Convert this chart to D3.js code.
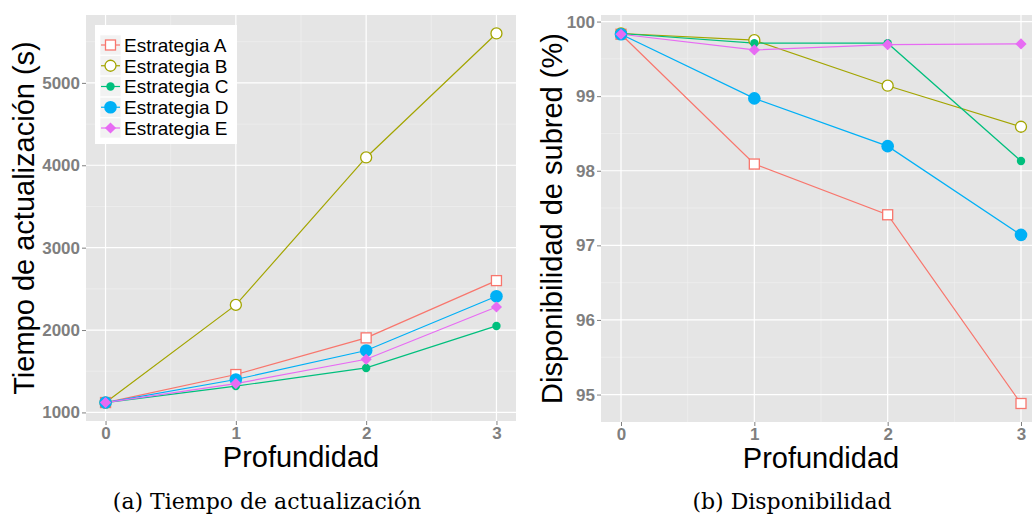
<!DOCTYPE html>
<html>
<head>
<meta charset="utf-8">
<script src="https://cdn.jsdelivr.net/npm/d3@7"></script>
<style>
  html, body { margin: 0; padding: 0; background: #ffffff; }
  svg { display: block; }
</style>
</head>
<body>
<svg id="chart" width="1032" height="514"></svg>
<script>
// Depth levels on the x axis
const profundidad = [0, 1, 2, 3];

// Strategy names
const estrategias = ["Estrategia A", "Estrategia B", "Estrategia C", "Estrategia D", "Estrategia E"];

// (a) Update time in seconds per strategy
const tiempoA = [1120, 1460, 1905, 2600];
const tiempoB = [1120, 2305, 4095, 5600];
const tiempoC = [1120, 1320, 1540, 2050];
const tiempoD = [1120, 1400, 1752, 2410];
const tiempoE = [1120, 1350, 1645, 2280];

// (b) Subnet availability (%) per strategy
const dispA = [99.83, 98.09, 97.41, 94.88];
const dispB = [99.84, 99.75, 99.14, 98.59];
const dispC = [99.84, 99.71, 99.71, 98.13];
const dispD = [99.83, 98.97, 98.33, 97.14];
const dispE = [99.83, 99.62, 99.69, 99.70];

// Tick labels
const ticksTiempo = [1000, 2000, 3000, 4000, 5000];
const ticksDisp = [95, 96, 97, 98, 99, 100];

const colores = ["#F8766D", "#A3A500", "#00BF7D", "#00B0F6", "#E76BF3"];
const formas = ["square", "circleOpen", "dot", "circle", "diamond"];

const svg = d3.select("#chart");
const SANS = "'Liberation Sans', Arial, Helvetica, sans-serif";

function drawMarker(g, shape, color, cx, cy) {
  if (shape === "square") {
    g.append("rect").attr("x", cx - 5).attr("y", cy - 5).attr("width", 10).attr("height", 10)
      .attr("fill", "#ffffff").attr("stroke", color).attr("stroke-width", 1.3);
  } else if (shape === "circleOpen") {
    g.append("circle").attr("cx", cx).attr("cy", cy).attr("r", 5.5)
      .attr("fill", "#ffffff").attr("stroke", color).attr("stroke-width", 1.3);
  } else if (shape === "dot") {
    g.append("circle").attr("cx", cx).attr("cy", cy).attr("r", 4.2).attr("fill", color);
  } else if (shape === "circle") {
    g.append("circle").attr("cx", cx).attr("cy", cy).attr("r", 6.3).attr("fill", color);
  } else if (shape === "diamond") {
    const s = 5.6;
    g.append("path")
      .attr("d", `M${cx},${cy - s}L${cx + s},${cy}L${cx},${cy + s}L${cx - s},${cy}Z`)
      .attr("fill", color);
  }
}

function expand(ext, f) {
  const pad = (ext[1] - ext[0]) * f;
  return [ext[0] - pad, ext[1] + pad];
}

function panel(opts) {
  const { left, right, top, bottom, series, yTicks, yMinor, yTitle, yTitleX, caption, captionX } = opts;
  const g = svg.append("g");

  const x = d3.scaleLinear().domain(expand(d3.extent(profundidad), 0.05)).range([left, right]);
  const all = series.flat();
  const y = d3.scaleLinear().domain(expand(d3.extent(all), 0.05)).range([bottom, top]);

  const clipId = "clip" + Math.round(left);
  svg.append("clipPath").attr("id", clipId)
    .append("rect").attr("x", left).attr("y", top).attr("width", right - left).attr("height", bottom - top);

  // panel background
  g.append("rect").attr("x", left).attr("y", top).attr("width", right - left).attr("height", bottom - top)
    .attr("fill", "#E5E5E5");

  const grid = g.append("g").attr("clip-path", `url(#${clipId})`);
  // minor grid
  [0.5, 1.5, 2.5].forEach(v => {
    grid.append("line").attr("x1", x(v)).attr("x2", x(v)).attr("y1", top).attr("y2", bottom)
      .attr("stroke", "#F2F2F2").attr("stroke-width", 0.6);
  });
  yMinor.forEach(v => {
    grid.append("line").attr("x1", left).attr("x2", right).attr("y1", y(v)).attr("y2", y(v))
      .attr("stroke", "#F2F2F2").attr("stroke-width", 0.6);
  });
  // major grid
  profundidad.forEach(v => {
    grid.append("line").attr("x1", x(v)).attr("x2", x(v)).attr("y1", top).attr("y2", bottom)
      .attr("stroke", "#ffffff").attr("stroke-width", 1.2);
  });
  yTicks.forEach(v => {
    grid.append("line").attr("x1", left).attr("x2", right).attr("y1", y(v)).attr("y2", y(v))
      .attr("stroke", "#ffffff").attr("stroke-width", 1.2);
  });

  // axes
  const xAxis = d3.axisBottom(x).tickValues(profundidad).tickFormat(d3.format("d")).tickSize(4).tickPadding(2);
  const yAxis = d3.axisLeft(y).tickValues(yTicks).tickFormat(d3.format("d")).tickSize(4).tickPadding(2);
  const gx = g.append("g").attr("transform", `translate(0,${bottom})`).call(xAxis);
  const gy = g.append("g").attr("transform", `translate(${left},0)`).call(yAxis);
  [gx, gy].forEach(a => {
    a.select(".domain").remove();
    a.selectAll(".tick line").attr("stroke", "#7F7F7F").attr("stroke-width", 1);
    a.selectAll(".tick text").attr("fill", "#7F7F7F").attr("font-family", SANS)
      .attr("font-weight", "bold").attr("font-size", 17);
  });

  // lines, then points
  const line = d3.line().x((d, i) => x(profundidad[i])).y(d => y(d));
  const lines = g.append("g");
  series.forEach((s, k) => {
    lines.append("path").attr("d", line(s)).attr("fill", "none")
      .attr("stroke", colores[k]).attr("stroke-width", 1.2);
  });
  const pts = g.append("g");
  series.forEach((s, k) => {
    s.forEach((v, i) => drawMarker(pts, formas[k], colores[k], x(profundidad[i]), y(v)));
  });

  // axis titles
  g.append("text").attr("x", (left + right) / 2).attr("y", bottom + 46)
    .attr("text-anchor", "middle").attr("font-family", SANS).attr("font-size", 29)
    .attr("fill", "#000").text("Profundidad");
  g.append("text").attr("transform", `translate(${yTitleX},${(top + bottom) / 2}) rotate(-90)`)
    .attr("text-anchor", "middle").attr("font-family", SANS).attr("font-size", 29)
    .attr("fill", "#000").text(yTitle);

  // caption
  g.append("text").attr("x", captionX).attr("y", 509)
    .attr("text-anchor", "middle").attr("font-family", "'DejaVu Serif', serif").attr("font-size", 22)
    .attr("fill", "#000").text(caption);

  return { x, y, g };
}

panel({
  left: 86, right: 516, top: 15, bottom: 421,
  series: [tiempoA, tiempoB, tiempoC, tiempoD, tiempoE],
  yTicks: ticksTiempo, yMinor: [1500, 2500, 3500, 4500, 5500],
  yTitle: "Tiempo de actualización (s)", yTitleX: 34,
  caption: "(a) Tiempo de actualización", captionX: 267
});

panel({
  left: 601, right: 1041, top: 15, bottom: 422,
  series: [dispA, dispB, dispC, dispD, dispE],
  yTicks: ticksDisp, yMinor: [95.5, 96.5, 97.5, 98.5, 99.5],
  yTitle: "Disponibilidad de subred (%)", yTitleX: 562,
  caption: "(b) Disponibilidad", captionX: 792
});

// legend inside panel (a)
const leg = svg.append("g");
leg.append("rect").attr("x", 95).attr("y", 25).attr("width", 142).attr("height", 119).attr("fill", "#ffffff");
estrategias.forEach((name, k) => {
  const cy = 45 + k * 20.75;
  leg.append("rect").attr("x", 100).attr("y", cy - 10).attr("width", 21).attr("height", 20)
    .attr("fill", "#F2F2F2").attr("stroke", "#ffffff").attr("stroke-width", 0.6);
  leg.append("line").attr("x1", 101).attr("x2", 120).attr("y1", cy).attr("y2", cy)
    .attr("stroke", colores[k]).attr("stroke-width", 1.2);
  drawMarker(leg, formas[k], colores[k], 110.5, cy);
  leg.append("text").attr("x", 124).attr("y", cy).attr("dy", "0.36em")
    .attr("font-family", SANS).attr("font-size", 19).attr("fill", "#000").text(name);
});
</script>
</body>
</html>
